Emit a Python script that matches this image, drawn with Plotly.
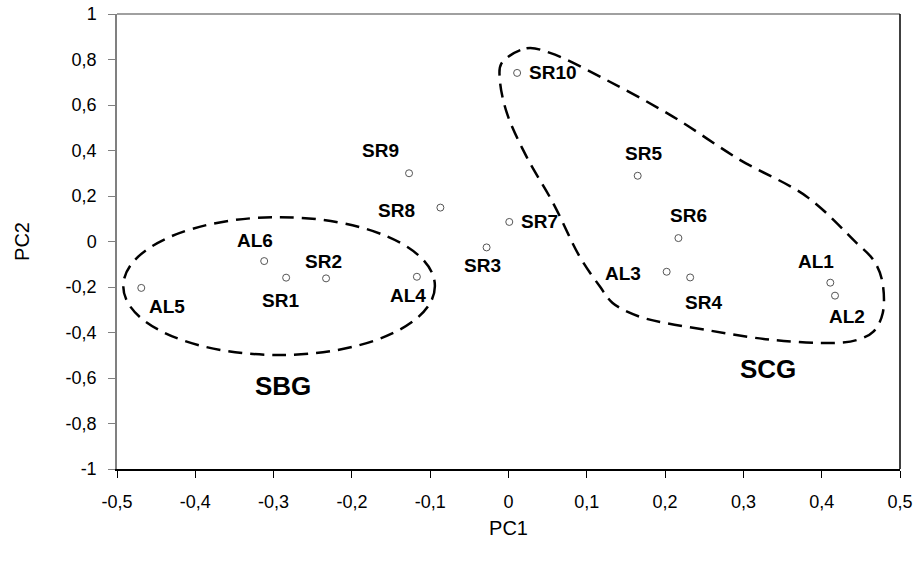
import plotly.graph_objects as go

# sample scores
names = ["SR10", "SR5", "SR6", "AL3", "SR4", "AL1", "AL2", "SR7", "SR3",
         "SR8", "SR9", "AL6", "SR1", "SR2", "AL4", "AL5"]
pc1 = [0.011, 0.165, 0.217, 0.202, 0.232, 0.411, 0.417, 0.001, -0.028,
       -0.087, -0.127, -0.312, -0.284, -0.233, -0.117, -0.469]
pc2 = [0.741, 0.289, 0.015, -0.133, -0.158, -0.181, -0.238, 0.086, -0.026,
       0.149, 0.300, -0.086, -0.159, -0.162, -0.155, -0.204]

# label offsets (pixels) relative to each point
label_dx = [36, 6, 10, -44, 13, -14, 12, 30, -4, -44, -29, -9, -6, -3, -9, 26]
label_dy = [0, 22, 23, -2, -25, 21, -21, 0, -18, -3, 23, 21, -23, 17, -19, -19]

# group outlines
sbg_center = (-0.293, -0.196)
sbg_radius = (0.199, 0.303)
scg_x = [-0.009, 0.023, 0.053, 0.125, 0.210, 0.296, 0.381, 0.445, 0.466, 0.477,
         0.478, 0.466, 0.445, 0.415, 0.338, 0.253, 0.168, 0.133, 0.117, 0.091,
         0.057, 0.023, -0.002, -0.011, -0.009]
scg_y = [0.783, 0.849, 0.829, 0.710, 0.549, 0.358, 0.197, -0.008, -0.081, -0.169,
         -0.314, -0.396, -0.433, -0.446, -0.433, -0.389, -0.331, -0.270, -0.199, -0.067,
         0.169, 0.373, 0.564, 0.710, 0.783]
group_names = ["SBG", "SCG"]
group_x = [-0.288, 0.331]
group_y = [-0.635, -0.562]

# axis ticks
x_ticks = [-0.5, -0.4, -0.3, -0.2, -0.1, 0, 0.1, 0.2, 0.3, 0.4, 0.5]
x_tick_text = ["-0,5", "-0,4", "-0,3", "-0,2", "-0,1", "0", "0,1", "0,2", "0,3", "0,4", "0,5"]
y_ticks = [-1, -0.8, -0.6, -0.4, -0.2, 0, 0.2, 0.4, 0.6, 0.8, 1]
y_tick_text = ["-1", "-0,8", "-0,6", "-0,4", "-0,2", "0", "0,2", "0,4", "0,6", "0,8", "1"]

dash = "14px,8px"
FONT = "Liberation Sans, Arial, sans-serif"
fig = go.Figure()

fig.add_trace(go.Scatter(x=scg_x, y=scg_y, mode="lines",
                         line=dict(color="black", width=2.5, dash=dash, shape="spline", smoothing=1.0),
                         hoverinfo="skip", showlegend=False))

fig.add_shape(type="circle", xref="x", yref="y",
              x0=sbg_center[0] - sbg_radius[0], x1=sbg_center[0] + sbg_radius[0],
              y0=sbg_center[1] - sbg_radius[1], y1=sbg_center[1] + sbg_radius[1],
              line=dict(color="black", width=2.5, dash=dash))

fig.add_trace(go.Scatter(x=pc1, y=pc2, mode="markers", text=names,
                         marker=dict(symbol="circle", size=7, color="white",
                                     line=dict(color="#555555", width=1)),
                         showlegend=False))

for n, x, y, dx, dy in zip(names, pc1, pc2, label_dx, label_dy):
    fig.add_annotation(x=x, y=y, text="<b>" + n + "</b>", showarrow=False, xshift=dx, yshift=dy,
                       font=dict(family=FONT, size=19, color="black"))

for g, x, y in zip(group_names, group_x, group_y):
    fig.add_annotation(x=x, y=y, text="<b>" + g + "</b>", showarrow=False,
                       font=dict(family=FONT, size=26, color="black"))

fig.update_layout(
    template="none",
    width=918, height=569,
    margin=dict(l=117, r=18, t=14, b=100, autoexpand=False),
    plot_bgcolor="white", paper_bgcolor="white",
    font=dict(family=FONT, color="black"),
    xaxis=dict(range=[-0.5, 0.5], tickvals=x_ticks, ticktext=x_tick_text, automargin=False,
               showgrid=False, zeroline=False, showline=True, linecolor="black", linewidth=1.5,
               ticks="outside", ticklen=7, tickcolor="black", tickwidth=1, tickfont=dict(size=18),
               ticklabelstandoff=9, ticklabeloverflow="allow",
               title=dict(text="PC1", font=dict(size=20), standoff=10)),
    yaxis=dict(range=[-1, 1], tickvals=y_ticks, ticktext=y_tick_text, automargin=False,
               showgrid=False, zeroline=False, showline=True, linecolor="#808080", linewidth=1.5,
               ticks="outside", ticklen=7, tickcolor="#808080", tickwidth=1, tickfont=dict(size=18),
               ticklabelstandoff=8, ticklabeloverflow="allow",
               title=dict(text="PC2", font=dict(size=20), standoff=31)),
)
# frame: top (gray) and right (black)
fig.add_shape(type="line", xref="paper", yref="paper", x0=0, x1=1, y0=1, y1=1,
              line=dict(color="#808080", width=1.5))
fig.add_shape(type="line", xref="paper", yref="paper", x0=1, x1=1, y0=0, y1=1,
              line=dict(color="black", width=1.5))

fig.write_html("out.html", config={"displayModeBar": False},
               post_script="document.body.style.margin='0';document.body.style.overflow='hidden';")
